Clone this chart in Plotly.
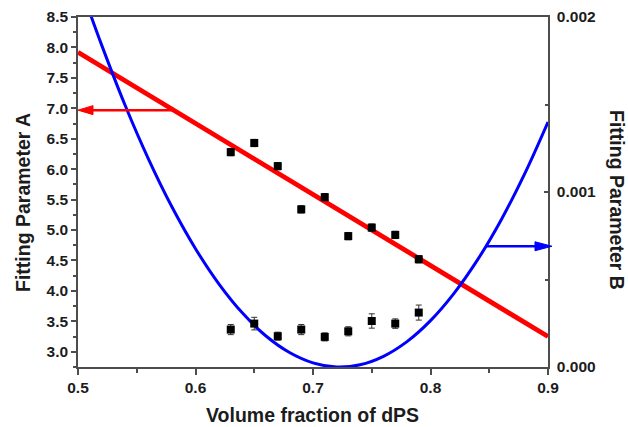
import plotly.graph_objects as go

# Measured samples: volume fraction of dPS
phi = [0.63, 0.65, 0.67, 0.69, 0.71, 0.73, 0.75, 0.77, 0.79]

# Fitting parameter A (left axis) with uncertainties
param_A = [6.28, 6.43, 6.05, 5.34, 5.54, 4.90, 5.04, 4.92, 4.52]
param_A_err = [0.06, 0.06, 0.06, 0.06, 0.06, 0.06, 0.06, 0.06, 0.06]

# Fitting parameter B (right axis) with uncertainties
param_B = [0.000214, 0.000248, 0.000176, 0.000214, 0.000172, 0.000204, 0.000263, 0.000248, 0.000311]
param_B_err = [2.9e-5, 3.6e-5, 2.3e-5, 2.9e-5, 2.3e-5, 2.6e-5, 4.1e-5, 2.7e-5, 4.3e-5]

# Linear trend of A
trend_A_x = [0.5, 0.9]
trend_A_y = [7.92, 3.25]

# Parabolic trend of B, sampled along the curve
trend_B_x = [0.505, 0.52, 0.54, 0.56, 0.58, 0.60, 0.62, 0.64, 0.66, 0.68, 0.70, 0.72,
             0.74, 0.76, 0.78, 0.80, 0.82, 0.84, 0.86, 0.88, 0.90]
trend_B_y = [0.00212, 0.001842, 0.001497, 0.001188, 0.000914, 0.000676, 0.000474, 0.000308,
             0.000177, 0.0000827, 0.0000236, 0.0000004, 0.0000129, 0.0000612, 0.000145,
             0.000265, 0.000421, 0.000612, 0.000839, 0.001102, 0.00140]

# Axis ranges and ticks
x_range = [0.5, 0.9]
yA_range = [2.75, 8.5]
yB_range = [0.0, 0.002]
x_ticks = [0.5, 0.6, 0.7, 0.8, 0.9]
yA_ticks = [3.0, 3.5, 4.0, 4.5, 5.0, 5.5, 6.0, 6.5, 7.0, 7.5, 8.0, 8.5]
yB_ticks = [0.0, 0.001, 0.002]

# Arrows pointing each curve to its axis: (tail x, tip x, level)
arrow_A = (0.583, 0.5, 6.97)
arrow_B = (0.848, 0.9034, 0.00069)

W, H = 628, 427
ML, MR, MT, MB = 78, 80, 17, 60
PW, PH = W - ML - MR, H - MT - MB

FONT = "Arial, Liberation Sans, sans-serif"
TXT = "#1c1c1c"
AX = "#4d4d4d"

fig = go.Figure()

fig.add_trace(go.Scatter(
    x=trend_A_x, y=trend_A_y, mode="lines",
    line=dict(color="#ff0000", width=4.8), yaxis="y", showlegend=False,
))
fig.add_trace(go.Scatter(
    x=phi, y=param_A, mode="markers",
    marker=dict(symbol="square", size=8, color="black"),
    error_y=dict(type="data", array=param_A_err, color="#333333", thickness=1, width=3),
    yaxis="y", showlegend=False,
))
fig.add_trace(go.Scatter(
    x=trend_B_x, y=trend_B_y, mode="lines", line_shape="spline",
    line=dict(color="#0000ff", width=3), yaxis="y2", showlegend=False,
))
fig.add_trace(go.Scatter(
    x=phi, y=param_B, mode="markers",
    marker=dict(symbol="square", size=8, color="black"),
    error_y=dict(type="data", array=param_B_err, color="#333333", thickness=1, width=3),
    yaxis="y2", showlegend=False,
))


def xdom(v):
    return (v - x_range[0]) / (x_range[1] - x_range[0])


def add_arrow(tail, tip, level, yref, yspan, color, head_len, head_half):
    """Horizontal arrow from a curve to an axis, with an elongated head."""
    px_x = 1.0 / PW
    px_y = yspan / PH
    direction = 1 if tip > tail else -1
    t0 = xdom(tail)
    t1 = xdom(tip)
    base = t1 - direction * head_len * px_x
    fig.add_shape(type="line", xref="x domain", yref=yref,
                  x0=t0, x1=base, y0=level, y1=level,
                  line=dict(color=color, width=2.5))
    path = (f"M {t1} {level} L {base} {level + head_half * px_y} "
            f"L {base} {level - head_half * px_y} Z")
    fig.add_shape(type="path", xref="x domain", yref=yref, path=path,
                  fillcolor=color, line=dict(color=color, width=1))


add_arrow(arrow_A[0], arrow_A[1], arrow_A[2], "y", yA_range[1] - yA_range[0], "#ff0000", 15, 4.5)
add_arrow(arrow_B[0], arrow_B[1], arrow_B[2], "y2", yB_range[1] - yB_range[0], "#0000ff", 17, 4.5)

tickfont = dict(family=FONT, size=15.5, color=TXT, weight="bold")

fig.update_layout(
    template="none",
    width=W, height=H,
    margin=dict(l=ML, r=MR, t=MT, b=MB, pad=0),
    paper_bgcolor="white", plot_bgcolor="white",
    showlegend=False,
    xaxis=dict(
        range=x_range, tickvals=x_ticks, tickformat=".1f",
        showline=True, linecolor=AX, linewidth=1.5, mirror=True,
        ticks="outside", ticklen=6, tickwidth=1.5, tickcolor=AX,
        minor=dict(dtick=0.05, tick0=0.5, ticks="outside", ticklen=4, tickwidth=1.5, tickcolor=AX),
        showgrid=False, zeroline=False, automargin=False,
        tickfont=tickfont,
    ),
    yaxis=dict(
        range=yA_range, tickvals=yA_ticks, tickformat=".1f",
        showline=True, linecolor=AX, linewidth=1.5,
        ticks="outside", ticklen=5, tickwidth=1.5, tickcolor=AX,
        minor=dict(dtick=0.25, tick0=2.75, ticks="outside", ticklen=3, tickwidth=1.5, tickcolor=AX),
        showgrid=False, zeroline=False, automargin=False,
        tickfont=tickfont,
    ),
    yaxis2=dict(
        range=yB_range, tickvals=yB_ticks, tickformat=".3f",
        overlaying="y", side="right",
        showline=True, linecolor=AX, linewidth=1.5,
        ticks="inside", ticklen=4, tickwidth=1.5, tickcolor=AX,
        minor=dict(dtick=0.0005, tick0=0, ticks="inside", ticklen=3, tickwidth=1.5, tickcolor=AX),
        showgrid=False, zeroline=False, automargin=False,
        ticklabelstandoff=4,
        tickfont=tickfont,
    ),
)

titlefont = dict(family=FONT, size=19.5, color=TXT, weight="bold")
fig.add_annotation(text="Volume fraction of dPS", xref="paper", yref="paper",
                   x=(312.5 - ML) / PW, y=-(H - 0.5 - (H - MB)) / PH,
                   xanchor="center", yanchor="bottom", borderpad=0,
                   showarrow=False, font=titlefont)
fig.add_annotation(text="Fitting Parameter A", xref="paper", yref="paper",
                   x=(23 - ML) / PW, y=((H - MB) - 203) / PH, textangle=-90,
                   xanchor="center", yanchor="middle", showarrow=False, font=titlefont)
fig.add_annotation(text="Fitting Parameter B", xref="paper", yref="paper",
                   x=(617 - ML) / PW, y=((H - MB) - 200) / PH, textangle=90,
                   xanchor="center", yanchor="middle", showarrow=False, font=titlefont)

fig.write_html("out.html")
